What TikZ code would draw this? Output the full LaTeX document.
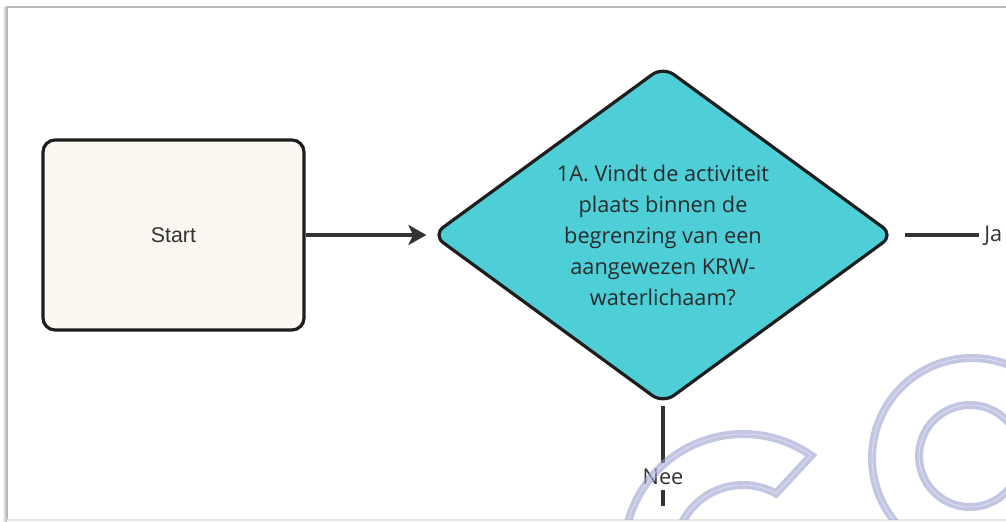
\documentclass[tikz,border=0pt]{standalone}
\usepackage{fontspec}
\setmainfont{Open Sans}
\newfontfamily\arialfont{Liberation Sans}
\usetikzlibrary{shapes.geometric,arrows.meta}
\definecolor{edgecol}{HTML}{1E1E1E}
\definecolor{linecol}{HTML}{333333}
\definecolor{txtcol}{HTML}{2A2A2A}
\definecolor{startfill}{HTML}{FAF8F0}
\definecolor{diafill}{HTML}{4ECFD8}
\definecolor{wmcol}{RGB}{155,160,208}
\definecolor{framecol}{HTML}{B8B8B8}
\tikzset{
  startbox/.style={rectangle, rounded corners=9pt, draw=edgecol, line width=2.4pt,
    fill=startfill, minimum width=195.75pt, minimum height=142.5pt,
    font=\arialfont\fontsize{16}{19}\selectfont, text=linecol},
  decbox/.style={diamond, aspect=1.367, draw=edgecol, line width=2.4pt, fill=diafill,
    rounded corners=10pt, inner sep=0pt, minimum width=346.5pt, minimum height=253.5pt,
    align=center, font=\fontsize{16.3}{23.25}\selectfont, text=txtcol},
  lbl/.style={font=\fontsize{16.3}{19}\selectfont, text=linecol},
  conn/.style={draw=linecol, line width=2.4pt},
  wm/.style={draw=wmcol, line width=6pt, opacity=0.6},
  wmline/.style={draw=white, line width=0.4pt, opacity=0.6},
}
\begin{document}
\begin{tikzpicture}[x=0.75pt,y=-0.75pt]
\useasboundingbox (0,0) rectangle (1006,521);
% frame
\shade[left color=white, right color=black!30] (2,7) rectangle (7,521);
\draw[framecol, line width=1.1pt] (7,521) -- (7,7) -- (1006,7);
\draw[black!10, line width=0.8pt] (7,520) -- (1006,520);

% nodes
\node[startbox] (start) at (173.5,235) {Start};
\node[decbox] (dia) at (663,235) {1A. Vindt de activiteit\\plaats binnen de\\begrenzing van een\\aangewezen KRW-\\waterlichaam?};
\node[lbl, anchor=west, inner sep=0pt] (ja) at (984,236) {Ja};
\node[lbl, inner sep=4pt] (nee) at (663,476.5) {Nee};
\coordinate (neeend) at (663,506);

% connectors
\draw[conn, -{Stealth[length=13.5pt, width=15pt, inset=3.5pt]}, shorten >=3pt] (start.east) -- (dia.west);
\draw[conn, shorten <=7pt, shorten >=4pt] (dia.east) -- (ja.west |- dia.east);
\draw[conn] (dia.south) -- (nee.north);
\draw[conn] (nee.south) -- (neeend);

% watermark
\begin{scope}
\clip (7.5,7.5) rectangle (1006,519.5);
\path[wm] (743,553) ++(-55:119) arc[start angle=-55, end angle=-235, radius=119]
   -- ([shift={(-235:68)}]743,553) arc[start angle=-235, end angle=-61, radius=68] -- cycle;
\path[wmline] (743,553) ++(-55:119) arc[start angle=-55, end angle=-235, radius=119]
   -- ([shift={(-235:68)}]743,553) arc[start angle=-235, end angle=-61, radius=68] -- cycle;
\path[wm] (972,458) circle[radius=100];
\path[wmline] (972,458) circle[radius=100];
\path[wm] (970,456) circle[radius=51];
\path[wmline] (970,456) circle[radius=51];
\end{scope}
\end{tikzpicture}
\end{document}
